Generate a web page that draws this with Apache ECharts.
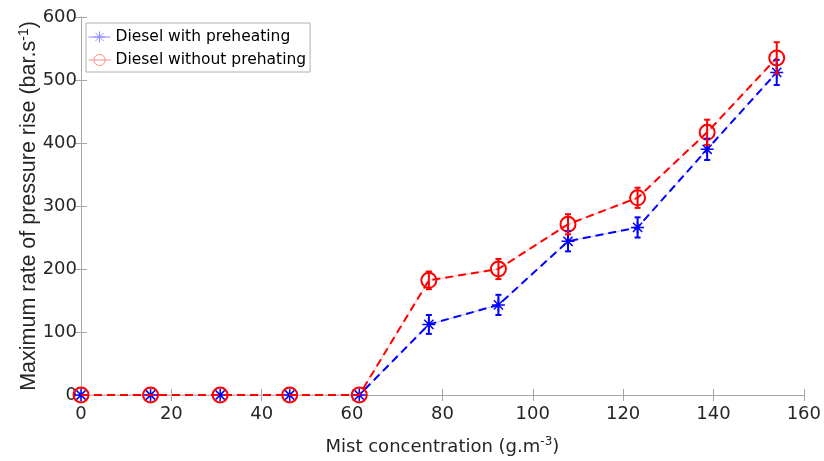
<!DOCTYPE html>
<html><head><meta charset="utf-8">
<script src="https://cdn.jsdelivr.net/npm/echarts@6/dist/echarts.min.js"></script>
<style>html,body{margin:0;padding:0;background:#fff}#c{width:824px;height:461px}</style>
</head><body><div id="c"></div>
<script>
const xVals = [0, 15.4, 30.8, 46.2, 61.6, 77, 92.4, 107.8, 123.2, 138.6, 154];
const withPre = [0, 0, 0, 0, 0, 112, 143, 244, 266, 390, 512];
const withoutPre = [0, 0, 0, 0, 0, 182, 200, 271, 313, 417, 535];
const errWith = [0, 0, 0, 0, 0, 15, 16, 16, 16, 17, 20];
const errWithout = [0, 0, 0, 0, 0, 14, 16, 16, 16, 20, 25];
const xTicks = [0, 20, 40, 60, 80, 100, 120, 140, 160];
const yTicks = [0, 100, 200, 300, 400, 500, 600];
const names = ['Diesel with preheating', 'Diesel without prehating'];

const FONT = '"DejaVu Sans", sans-serif';
const FONT2 = '"Liberation Sans", Arial, Helvetica, sans-serif';
const AX = '#a6a6a6';
const TXT = '#262626';
const star = 'path://M0,-10L0,10M-10,0L10,0M-7.07,-7.07L7.07,7.07M-7.07,7.07L7.07,-7.07';

function pairs(ys) { return xVals.map((x, i) => [x, ys[i]]); }
function errData(ys, es) { return xVals.map((x, i) => [x, ys[i], es[i]]); }
function errRender(color) {
  return function (params, api) {
    const x = api.value(0), y = api.value(1), e = api.value(2);
    if (!e) return null;
    const t = api.coord([x, y + e]), b = api.coord([x, y - e]);
    const st = { stroke: color, lineWidth: 2 };
    return { type: 'group', children: [
      { type: 'line', shape: { x1: t[0], y1: t[1], x2: b[0], y2: b[1] }, style: st },
      { type: 'line', shape: { x1: t[0] - 3, y1: t[1], x2: t[0] + 3, y2: t[1] }, style: st },
      { type: 'line', shape: { x1: b[0] - 3, y1: b[1], x2: b[0] + 3, y2: b[1] }, style: st }
    ]};
  };
}

const chart = echarts.init(document.getElementById('c'));
const axisCommon = {
  type: 'value', min: 0,
  axisLine: { show: true, lineStyle: { color: AX, width: 1 } },
  axisTick: { show: true, inside: true, length: 6, lineStyle: { color: AX } },
  splitLine: { show: false },
  axisLabel: { color: TXT, fontSize: 18, fontFamily: FONT }
};
chart.setOption({
  animation: false,
  grid: { left: 81, top: 17, width: 724, height: 381, containLabel: false },
  xAxis: [
    Object.assign({}, axisCommon, { max: 160, interval: 20, position: 'bottom',
      name: '{n|Mist concentration (g.m}{s|-3}{n|)}', nameLocation: 'middle', nameGap: 41, nameMoveOverlap: false,
      nameTextStyle: { rich: { n: { fontSize: 18, color: TXT, fontFamily: FONT }, s: { fontSize: 12, color: TXT, fontFamily: FONT, verticalAlign: 'top', padding: [0, 0, 10, 0] } } },
      axisLabel: { color: TXT, fontSize: 18, fontFamily: FONT, margin: 10 } }),
    Object.assign({}, axisCommon, { max: 160, interval: 20, position: 'top', axisLabel: { show: false } })
  ],
  yAxis: [
    Object.assign({}, axisCommon, { max: 600, interval: 100, position: 'left',
      name: '{n|Maximum rate of pressure rise (bar.s}{s|-1}{n|)}', nameLocation: 'middle', nameGap: 40, nameMoveOverlap: false,
      nameTextStyle: { rich: { n: { fontSize: 21.5, color: TXT, fontFamily: FONT2 }, s: { fontSize: 14, color: TXT, fontFamily: FONT2, verticalAlign: 'top', padding: [0, 0, 10, 0] } } },
      axisLabel: { color: TXT, fontSize: 18, fontFamily: FONT, margin: 4 } }),
    Object.assign({}, axisCommon, { max: 600, interval: 100, position: 'right', axisLabel: { show: false } })
  ],
  legend: {
    left: 86, top: 23, orient: 'vertical', backgroundColor: '#fff',
    borderColor: '#b0b0b0', borderWidth: 1, padding: [6, 4, 4, 2], itemGap: 7,
    itemWidth: 22, itemHeight: 14,
    textStyle: { fontSize: 15.5, lineHeight: 14, color: '#000', fontFamily: FONT },
    data: [
      { name: names[0], itemStyle: { color: 'transparent', borderColor: '#8c8cff', borderWidth: 1 }, lineStyle: { color: '#8c8cff', width: 1, type: 'solid' } },
      { name: names[1], itemStyle: { color: 'transparent', borderColor: '#ff8c8c', borderWidth: 1 }, lineStyle: { color: '#ff8c8c', width: 1, type: 'solid' } }
    ]
  },
  series: [
    { type: 'line', silent: true, data: pairs(withPre), symbol: 'none', lineStyle: { color: '#c8c8ff', width: 1 }, z: 1 },
    { type: 'line', silent: true, data: pairs(withoutPre), symbol: 'none', lineStyle: { color: '#ffc0c0', width: 1 }, z: 1 },
    { name: names[0], type: 'line', data: pairs(withPre), symbol: star, symbolSize: 13,
      itemStyle: { color: 'transparent', borderColor: '#0000ff', borderWidth: 1.5 },
      lineStyle: { color: '#0000ff', width: 2, type: [8, 5] }, z: 3 },
    { name: names[1], type: 'line', data: pairs(withoutPre), symbol: 'circle', symbolSize: 15,
      itemStyle: { color: 'transparent', borderColor: '#ff0000', borderWidth: 2 },
      lineStyle: { color: '#ff0000', width: 2, type: [8, 5] }, z: 4 },
    { type: 'custom', silent: true, data: errData(withPre, errWith), renderItem: errRender('#0000ff'), z: 5 },
    { type: 'custom', silent: true, data: errData(withoutPre, errWithout), renderItem: errRender('#ff0000'), z: 6 }
  ]
});
</script></body></html>
